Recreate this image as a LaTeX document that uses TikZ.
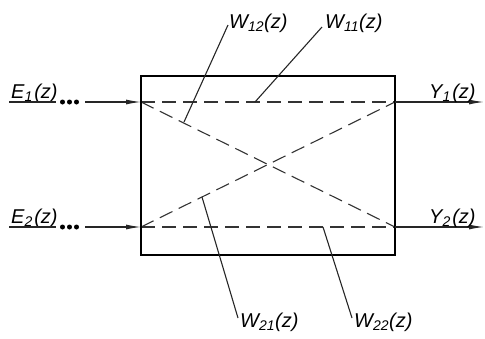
\documentclass[tikz,border=0pt]{standalone}
\usepackage{fontspec}
\setmainfont{Liberation Sans}
\usetikzlibrary{arrows.meta}
\tikzset{
  thin line/.style={line width=1.1pt, black!85},
  dashline/.style={line width=1.1pt, black!80, dash pattern=on 14pt off 7pt},
  boxline/.style={line width=2pt},
  sig/.style={thin line, -{Latex[length=15pt,width=5pt]}},
  lbl/.style={anchor=base west, inner sep=0pt, font=\fontsize{20}{22}\selectfont\itshape},
  dot/.style={circle, fill=black, inner sep=0pt, minimum size=5pt},
}
\begin{document}
\begin{tikzpicture}[x=1pt,y=-1pt]
\useasboundingbox (0,0) rectangle (485,338);
% box corners and ports
\coordinate (TL) at (141,76);
\coordinate (BR) at (395,255);
\coordinate (L1) at (141,102);
\coordinate (L2) at (141,227);
\coordinate (R1) at (395,102);
\coordinate (R2) at (395,227);
% dashed internal paths
\draw[dashline] (L1) -- (R1);
\draw[dashline] (L2) -- (R2);
\draw[dashline] (L1) -- (R2);
\draw[dashline] (L2) -- (R1);
\draw[boxline] (TL) rectangle (BR);
% inputs
\node[lbl] (E1) at (11,98) {E\textsubscript{1}\hspace{1.5pt}(z)};
\node[lbl] (E2) at (11,223) {E\textsubscript{2}\hspace{1.5pt}(z)};
\coordinate (u1a) at (9,102); \coordinate (u1b) at (56,102);
\coordinate (u2a) at (9,227); \coordinate (u2b) at (56,227);
\draw[thin line] (u1a) -- (u1b);
\draw[thin line] (u2a) -- (u2b);
\node[dot] (d11) at (62.5,102) {}; \node[dot] (d12) at (69.5,102) {}; \node[dot] (d13) at (76.5,102) {};
\node[dot] (d21) at (62.5,227) {}; \node[dot] (d22) at (69.5,227) {}; \node[dot] (d23) at (76.5,227) {};
\coordinate (s1) at (85,102); \coordinate (s2) at (85,227);
\draw[sig] (s1) -- (L1);
\draw[sig] (s2) -- (L2);
% outputs
\coordinate (o1) at (484,102); \coordinate (o2) at (484,227);
\draw[sig] (R1) -- (o1);
\draw[sig] (R2) -- (o2);
\node[lbl] (Y1) at (429,98) {Y\textsubscript{1}\hspace{1.5pt}(z)};
\node[lbl] (Y2) at (429,223) {Y\textsubscript{2}\hspace{1.5pt}(z)};
% leaders
\coordinate (w12a) at (228,25); \coordinate (w12b) at (184,122);
\coordinate (w11a) at (322,27); \coordinate (w11b) at (255,102);
\coordinate (w21a) at (238,318); \coordinate (w21b) at (202,197);
\coordinate (w22a) at (352,318); \coordinate (w22b) at (323,227);
\draw[thin line] (w12a) -- (w12b);
\draw[thin line] (w11a) -- (w11b);
\draw[thin line] (w21a) -- (w21b);
\draw[thin line] (w22a) -- (w22b);
\node[lbl] (W12) at (229,28) {W\textsubscript{12}(z)};
\node[lbl] (W11) at (325,28) {W\textsubscript{11}(z)};
\node[lbl] (W21) at (240,327) {W\textsubscript{21}(z)};
\node[lbl] (W22) at (354,327) {W\textsubscript{22}(z)};
\end{tikzpicture}
\end{document}
